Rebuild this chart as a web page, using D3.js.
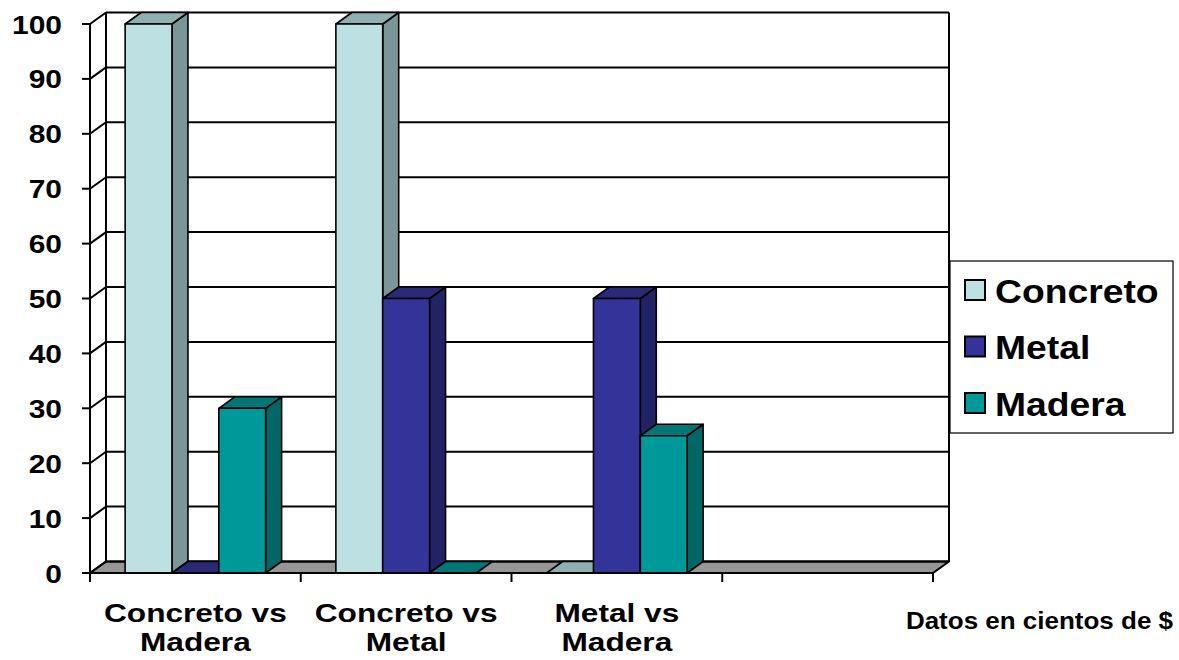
<!DOCTYPE html>
<html>
<head>
<meta charset="utf-8">
<script src="https://cdn.jsdelivr.net/npm/d3@7"></script>
<style>
  html, body { margin: 0; padding: 0; background: #fff; }
  svg { display: block; }
  text { font-family: "Liberation Sans", Arial, sans-serif; font-weight: bold; fill: #000; }
</style>
</head>
<body>
<svg id="chart" width="1179" height="660"></svg>
<script>
// Category labels (one entry per line), the last slot is empty
const categories = [
  ["Concreto vs", "Madera"],
  ["Concreto vs", "Metal"],
  ["Metal vs", "Madera"],
  []
];
const seriesNames = ["Concreto", "Metal", "Madera"];
const concretoValues = [100, 100, 0, null];
const metalValues = [0, 50, 50, null];
const maderaValues = [30, 0, 25, null];
const yTicks = [0, 10, 20, 30, 40, 50, 60, 70, 80, 90, 100];
const unitNote = "Datos en cientos de $";

const seriesValues = [concretoValues, metalValues, maderaValues];

// front / side / top shades of each series
const palette = {
  Concreto: { front: "#BDE0E3", side: "#7A9696", top: "#8FB0B0" },
  Metal:    { front: "#333399", side: "#222266", top: "#2A2A78" },
  Madera:   { front: "#009999", side: "#006666", top: "#007676" }
};

const svg = d3.select("#chart");
const stretch = 1.13;           // horizontal stretch of the lettering
const depth = { dx: 16, dy: -11.5 };

const catKeys = categories.map((c, i) => "c" + i);
const x = d3.scaleBand().domain(catKeys).range([90, 933]).paddingInner(0).paddingOuter(0);
const bw = x.bandwidth();
const xs = d3.scaleBand().domain(seriesNames).range([bw / 6, bw * 5 / 6]).padding(0);
const y = d3.scaleLinear().domain([0, 100]).range([573, 24]);

const x0 = x.range()[0], x1 = x.range()[1];
const pts = a => a.map(p => p.join(",")).join(" ");

// floor
svg.append("polygon")
  .attr("points", pts([[x0, y(0)], [x1, y(0)], [x1 + depth.dx, y(0) + depth.dy], [x0 + depth.dx, y(0) + depth.dy]]))
  .attr("fill", "#969696").attr("stroke", "#000").attr("stroke-width", 2).attr("stroke-linejoin", "round");

// gridlines on the back wall and left wall
const grid = svg.append("g").attr("stroke", "#000").attr("stroke-width", 2).attr("fill", "none");
yTicks.forEach(t => {
  grid.append("line")
    .attr("x1", x0 + depth.dx).attr("x2", x1 + depth.dx)
    .attr("y1", y(t) + depth.dy).attr("y2", y(t) + depth.dy);
  grid.append("line")
    .attr("x1", x0).attr("y1", y(t))
    .attr("x2", x0 + depth.dx).attr("y2", y(t) + depth.dy);
});
// wall edges
grid.append("line").attr("x1", x0 + depth.dx).attr("x2", x0 + depth.dx)
  .attr("y1", y(100) + depth.dy).attr("y2", y(0) + depth.dy);
grid.append("line").attr("x1", x1 + depth.dx).attr("x2", x1 + depth.dx)
  .attr("y1", y(100) + depth.dy).attr("y2", y(0) + depth.dy);
grid.append("line").attr("x1", x0).attr("x2", x0).attr("y1", y(100)).attr("y2", y(0));

// bars as boxes, drawn left to right
const bars = svg.append("g").attr("stroke", "#000").attr("stroke-width", 1.6).attr("stroke-linejoin", "round");
catKeys.forEach((ck, ci) => {
  seriesNames.forEach((s, si) => {
    const v = seriesValues[si][ci];
    if (v === null || v === undefined) return;
    const bx = x(ck) + xs(s), w = xs.bandwidth();
    const yt = y(v), yb = y(0);
    const c = palette[s];
    if (v > 0) {
      bars.append("polygon")
        .attr("points", pts([[bx + w, yb], [bx + w + depth.dx, yb + depth.dy], [bx + w + depth.dx, yt + depth.dy], [bx + w, yt]]))
        .attr("fill", c.side);
    }
    bars.append("polygon")
      .attr("points", pts([[bx, yt], [bx + w, yt], [bx + w + depth.dx, yt + depth.dy], [bx + depth.dx, yt + depth.dy]]))
      .attr("fill", c.top);
    if (v > 0) {
      bars.append("rect").attr("x", bx).attr("y", yt).attr("width", w).attr("height", yb - yt)
        .attr("fill", c.front);
    }
  });
});

// front baseline and ticks
const axis = svg.append("g").attr("stroke", "#000").attr("stroke-width", 2);
axis.append("line").attr("x1", x0).attr("x2", x1).attr("y1", y(0)).attr("y2", y(0));
const catEdges = catKeys.map(k => x(k)).concat([x1]);
catEdges.forEach(e => axis.append("line").attr("x1", e).attr("x2", e).attr("y1", y(0)).attr("y2", y(0) + 9));
yTicks.forEach(t => axis.append("line").attr("x1", x0 - 8).attr("x2", x0).attr("y1", y(t)).attr("y2", y(t)));

// text helper with horizontal stretch; several lines go into one text element
function label(parent, tx, ty, lines, size, anchor, lineGap, sx) {
  const t = parent.append("g").attr("transform", `translate(${tx},${ty}) scale(${sx || stretch},1)`)
    .append("text").attr("text-anchor", anchor).attr("font-size", size);
  [].concat(lines).forEach((ln, j) => {
    t.append("tspan").attr("x", 0).attr("y", j * (lineGap || 0)).text(ln);
  });
}

const txt = svg.append("g");
yTicks.forEach(t => label(txt, 62, y(t) + 9.5, String(t), 26.5, "end"));

categories.forEach((lines, i) => {
  if (!lines.length) return;
  const cx = x(catKeys[i]) + bw / 2;
  label(txt, cx, 622, lines, 26, "middle", 29.5, 1.217);
});

label(txt, 1173, 629, unitNote, 23, "end");

// legend
const lg = svg.append("g");
lg.append("rect").attr("x", 950).attr("y", 261).attr("width", 223).attr("height", 172)
  .attr("fill", "#fff").attr("stroke", "#000").attr("stroke-width", 1.2);
seriesNames.forEach((s, i) => {
  const yy = 280 + i * 56.5;
  lg.append("rect").attr("x", 965).attr("y", yy).attr("width", 20).attr("height", 20)
    .attr("fill", palette[s].front).attr("stroke", "#000").attr("stroke-width", 2);
  label(lg, 995, yy + 22.5, s, 33, "start");
});
</script>
</body>
</html>
